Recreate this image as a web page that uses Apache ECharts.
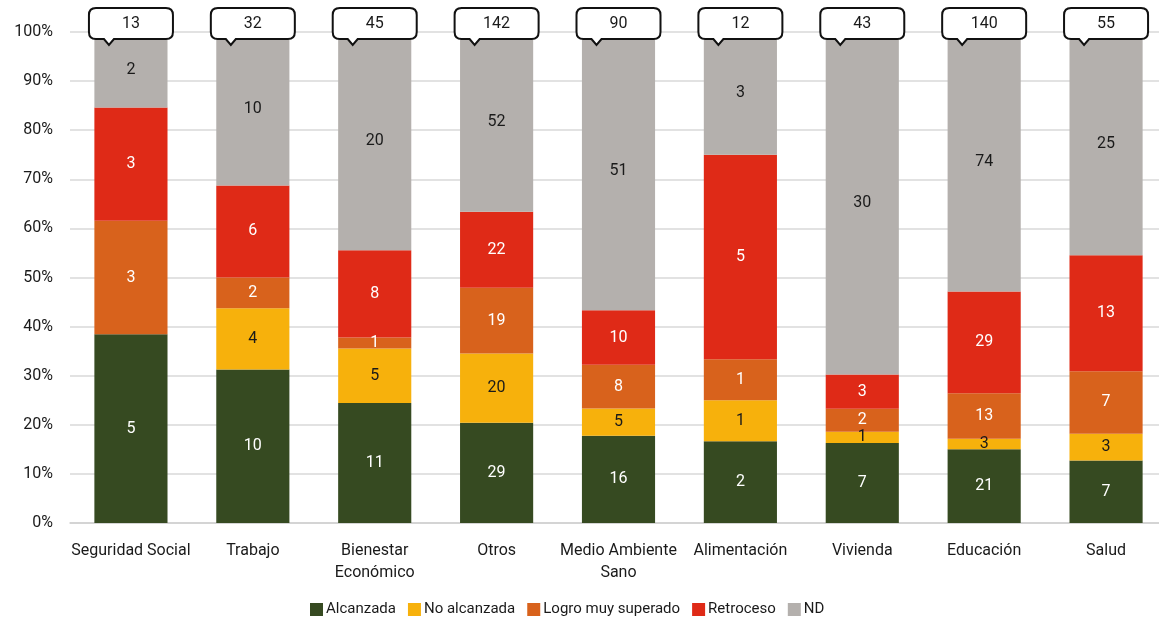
<!DOCTYPE html>
<html>
<head>
<meta charset="utf-8">
<script src="https://cdn.jsdelivr.net/npm/echarts@6/dist/echarts.min.js"></script>
<style>html,body{margin:0;padding:0;background:#fff;}#c{width:1159px;height:619px;}</style>
</head>
<body>
<div id="c"></div>
<script>
const categories = ['Seguridad Social','Trabajo','Bienestar\nEconómico','Otros','Medio Ambiente\nSano','Alimentación','Vivienda','Educación','Salud'];
const seriesNames = ['Alcanzada','No alcanzada','Logro muy superado','Retroceso','ND'];
const alcanzada   = [5, 10, 11, 29, 16, 2, 7, 21, 7];
const noAlcanzada = [0, 4, 5, 20, 5, 1, 1, 3, 3];
const logro       = [3, 2, 1, 19, 8, 1, 2, 13, 7];
const retroceso   = [3, 6, 8, 22, 10, 5, 3, 29, 13];
const nd          = [2, 10, 20, 52, 51, 3, 30, 74, 25];
const totals      = [13, 32, 45, 142, 90, 12, 43, 140, 55];
const yTicks = [0,10,20,30,40,50,60,70,80,90,100];

const counts = [alcanzada, noAlcanzada, logro, retroceso, nd];
const colors = ['#364a21', '#f7b10c', '#d8621c', '#df2a17', '#b4b0ad'];
const labelColors = ['#ffffff', '#1a1a1a', '#ffffff', '#ffffff', '#1a1a1a'];
const FONT = 'Roboto';

const barSeries = counts.map((arr, s) => ({
  name: seriesNames[s],
  type: 'bar',
  stack: 'total',
  barCategoryGap: '40%',
  itemStyle: { color: colors[s] },
  data: arr.map((v, i) => ({ value: v / totals[i] * 100, count: v })),
  label: {
    show: true,
    position: 'inside',
    color: labelColors[s],
    fontFamily: FONT,
    fontSize: 16,
    formatter: p => p.data.count ? String(p.data.count) : ''
  },
  emphasis: { disabled: true }
}));

const calloutSeries = {
  type: 'custom',
  name: 'totales',
  z: 10,
  silent: true,
  data: totals.map((t, i) => [i, 100, t]),
  renderItem: function (params, api) {
    const p = api.coord([api.value(0), api.value(1)]);
    const cx = p[0], cy = p[1];
    const w = 84, h = 31, r = 7;
    const x0 = cx - w / 2, x1 = cx + w / 2;
    const t = cy - 24, b = t + h;
    const xp = cx - 22;
    const d = 'M' + (x0 + r) + ' ' + t +
      ' L' + (x1 - r) + ' ' + t +
      ' Q' + x1 + ' ' + t + ' ' + x1 + ' ' + (t + r) +
      ' L' + x1 + ' ' + (b - r) +
      ' Q' + x1 + ' ' + b + ' ' + (x1 - r) + ' ' + b +
      ' L' + (xp + 5) + ' ' + b +
      ' L' + xp + ' ' + (b + 6) +
      ' L' + (xp - 5) + ' ' + b +
      ' L' + (x0 + r) + ' ' + b +
      ' Q' + x0 + ' ' + b + ' ' + x0 + ' ' + (b - r) +
      ' L' + x0 + ' ' + (t + r) +
      ' Q' + x0 + ' ' + t + ' ' + (x0 + r) + ' ' + t + ' Z';
    return {
      type: 'group',
      children: [
        { type: 'path', shape: { pathData: d }, style: { fill: '#ffffff', stroke: '#111111', lineWidth: 2 } },
        { type: 'text', style: { text: String(api.value(2)), x: cx, y: t + h / 2, align: 'center', verticalAlign: 'middle', fontFamily: FONT, fontSize: 16, fill: '#1a1a1a' } }
      ]
    };
  }
};

const chart = echarts.init(document.getElementById('c'));
chart.setOption({
  animation: false,
  backgroundColor: '#ffffff',
  grid: { left: 70, top: 32, width: 1097, bottom: 96, containLabel: false, outerBoundsMode: 'none' },
  legend: {
    data: seriesNames,
    left: 305,
    top: 597,
    itemWidth: 13,
    itemHeight: 13,
    itemGap: 12,
    icon: 'rect',
    textStyle: { fontFamily: FONT, fontSize: 15, color: '#1a1a1a', padding: [0, 0, 0, -2] }
  },
  xAxis: {
    type: 'category',
    data: categories,
    axisLine: { lineStyle: { color: '#d0d0d0', width: 1.5 } },
    axisTick: { show: false },
    axisLabel: { fontFamily: FONT, fontSize: 16, color: '#1a1a1a', margin: 17, lineHeight: 22, interval: 0 }
  },
  yAxis: {
    type: 'value',
    min: yTicks[0],
    max: yTicks[yTicks.length - 1],
    interval: 10,
    axisLine: { show: false },
    axisTick: { show: false },
    splitLine: { lineStyle: { color: '#d9d9d9', width: 1.5 } },
    axisLabel: { fontFamily: FONT, fontSize: 16, color: '#1a1a1a', margin: 17, formatter: '{value}%' }
  },
  series: [...barSeries, calloutSeries]
});
</script>
</body>
</html>
